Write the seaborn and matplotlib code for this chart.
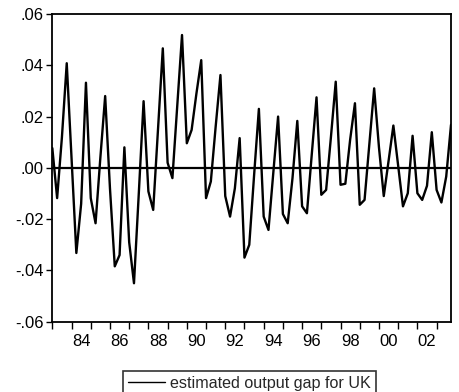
import numpy as np
import pandas as pd
import matplotlib
matplotlib.use("Agg")
import matplotlib.pyplot as plt
import seaborn as sns

# Quarterly estimated output gap for the UK, 1983Q1-2003Q4
start_year = 1983
gap = [
    0.0077, -0.0118, 0.012, 0.0408,    # 1983
    0.0038, -0.0332, -0.014, 0.0332,   # 1984
    -0.0118, -0.0216, 0.004, 0.028,    # 1985
    -0.008, -0.0384, -0.034, 0.008,    # 1986
    -0.029, -0.045, -0.010, 0.026,     # 1987
    -0.0092, -0.0164, 0.015, 0.0466,   # 1988
    0.002, -0.004, 0.024, 0.0518,      # 1989
    0.0096, 0.0148, 0.029, 0.042,      # 1990
    -0.0118, -0.0053, 0.016, 0.0362,   # 1991
    -0.011, -0.019, -0.008, 0.0116,    # 1992
    -0.035, -0.030, -0.003, 0.023,     # 1993
    -0.019, -0.0242, -0.002, 0.020,    # 1994
    -0.018, -0.0216, -0.004, 0.0183,   # 1995
    -0.015, -0.0177, 0.005, 0.0275,    # 1996
    -0.0105, -0.0086, 0.012, 0.0336,   # 1997
    -0.0066, -0.0062, 0.011, 0.0252,   # 1998
    -0.0144, -0.0125, 0.0093, 0.031,   # 1999
    0.008, -0.011, 0.0027, 0.0165,     # 2000
    0.0008, -0.015, -0.0099, 0.0125,   # 2001
    -0.0099, -0.0125, -0.007, 0.0139,  # 2002
    -0.0086, -0.0135, -0.0034, 0.0168, # 2003
]
y_ticks = [-0.06, -0.04, -0.02, 0.00, 0.02, 0.04, 0.06]
y_tick_labels = ["-.06", "-.04", "-.02", ".00", ".02", ".04", ".06"]
year_labels = ["84", "86", "88", "90", "92", "94", "96", "98", "00", "02"]
series_name = "estimated output gap for UK"

t = start_year + np.arange(len(gap)) / 4.0
df = pd.DataFrame({"time": t, "gap": gap})

sns.set_style("white")
plt.rcParams["font.family"] = ["Liberation Sans", "DejaVu Sans"]

fig = plt.figure(figsize=(4.59, 3.92), dpi=100)
ax = fig.add_axes([0.114, 0.1793, 0.8686, 0.785])

sns.lineplot(data=df, x="time", y="gap", ax=ax, color="black",
             linewidth=1.7, label=series_name, legend=False)
ax.axhline(0.0, color="black", linewidth=1.6, zorder=1)

ax.set_xlim(t[0], t[-1])
ax.set_ylim(-0.06, 0.06)
ax.set_xlabel("")
ax.set_ylabel("")

# year boundaries get tick marks; labels sit at mid-year of even years
years = np.arange(start_year, int(t[-1]) + 1)
ax.set_xticks(years)
ax.set_xticklabels([])
label_pos = [1984.5 + 2 * k for k in range(len(year_labels))]
ax.set_xticks(label_pos, minor=True)
ax.set_xticklabels(year_labels, minor=True)
ax.tick_params(axis="x", which="major", direction="out", length=5,
               width=1.0, color="black", bottom=True)
ax.tick_params(axis="x", which="minor", length=0, labelsize=12,
               pad=9, labelcolor="black")

ax.set_yticks(y_ticks)
ax.set_yticklabels(y_tick_labels)
ax.tick_params(axis="y", direction="out", length=4, width=1.0,
               color="black", left=True, labelsize=12, pad=2,
               labelcolor="black")

for side in ["top", "bottom", "left", "right"]:
    ax.spines[side].set_visible(True)
    ax.spines[side].set_color("black")
    ax.spines[side].set_linewidth(1.3)

handles, labels = ax.get_legend_handles_labels()
leg = fig.legend(handles, labels, loc="lower left",
                 bbox_to_anchor=(122.7 / 459, -0.01), frameon=True,
                 fancybox=False, edgecolor="black", fontsize=11.6,
                 handlelength=2.3, handletextpad=0.35, borderpad=0.3,
                 borderaxespad=0.0)
leg.get_frame().set_linewidth(1.2)
for line in leg.get_lines():
    line.set_linewidth(1.0)

fig.savefig("out.png", dpi=100)
